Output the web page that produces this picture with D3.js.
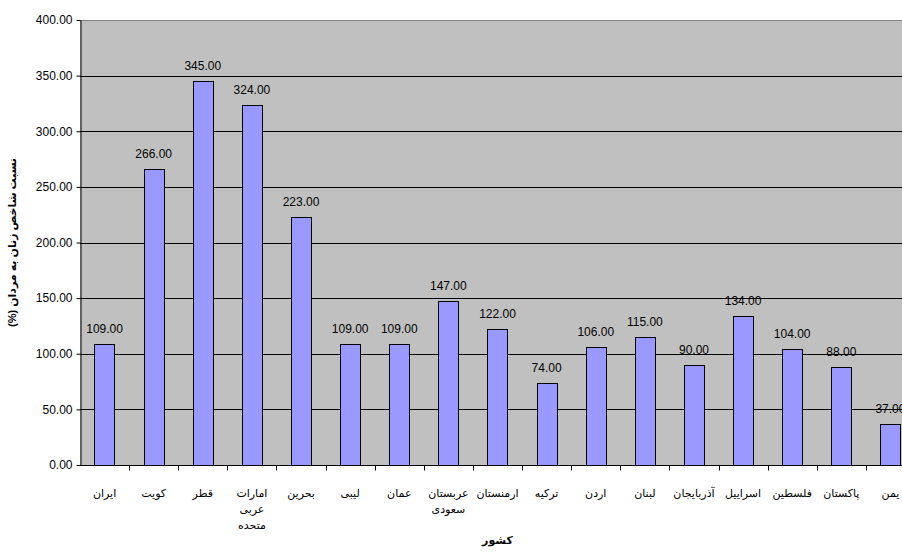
<!DOCTYPE html>
<html>
<head>
<meta charset="utf-8">
<script src="https://cdn.jsdelivr.net/npm/d3@7"></script>
<style>
    body { margin: 0; background: #fff; }
    svg { display: block; font-family: Arial, "Liberation Sans", "DejaVu Sans", sans-serif; }
</style>
</head>
<body>
<div id="chart"></div>
<script>
// categories are listed left to right as drawn
const countries = ['ایران', 'کویت', 'قطر', 'امارات عربی متحده', 'بحرین', 'لیبی', 'عمان', 'عربستان سعودی',
    'ارمنستان', 'ترکیه', 'اردن', 'لبنان', 'آذربایجان', 'اسراییل', 'فلسطین', 'پاکستان', 'یمن'];
// labels as they wrap under the axis
const countryLines = [['ایران'], ['کویت'], ['قطر'], ['امارات', 'عربی', 'متحده'], ['بحرین'], ['لیبی'], ['عمان'],
    ['عربستان', 'سعودی'], ['ارمنستان'], ['ترکیه'], ['اردن'], ['لبنان'], ['آذربایجان'], ['اسراییل'], ['فلسطین'],
    ['پاکستان'], ['یمن']];
const ratios = [109, 266, 345, 324, 223, 109, 109, 147, 122, 74, 106, 115, 90, 134, 104, 88, 37];
const yTicks = [0, 50, 100, 150, 200, 250, 300, 350, 400];
const yTitle = 'نسبت شاخص زنان به مردان (%)';
const xTitle = 'کشور';

const width = 902, height = 552;
const margin = {left: 80, top: 20};
const plotW = 835, plotH = 445;  // plot runs past the right edge like the original

const svg = d3.select('#chart').append('svg')
    .attr('width', width)
    .attr('height', height);

const x = d3.scaleBand()
    .domain(countries)
    .range([margin.left, margin.left + plotW])
    .padding(0);

const y = d3.scaleLinear()
    .domain([0, 400])
    .range([margin.top + plotH, margin.top]);

// plot background
svg.append('rect')
    .attr('x', margin.left)
    .attr('y', margin.top)
    .attr('width', plotW)
    .attr('height', plotH)
    .attr('fill', '#c0c0c0');

// gridlines
svg.append('g')
    .selectAll('line')
    .data(yTicks.filter(t => t > 0 && t < 400))
    .enter().append('line')
    .attr('x1', margin.left)
    .attr('x2', margin.left + plotW)
    .attr('y1', d => Math.round(y(d)) + 0.5)
    .attr('y2', d => Math.round(y(d)) + 0.5)
    .attr('stroke', '#000')
    .attr('stroke-width', 1);

// top border
svg.append('line')
    .attr('x1', margin.left)
    .attr('x2', margin.left + plotW)
    .attr('y1', margin.top + 0.5)
    .attr('y2', margin.top + 0.5)
    .attr('stroke', '#808080');

const barW = x.bandwidth() * 0.41;

svg.append('g')
    .selectAll('rect')
    .data(ratios)
    .enter().append('rect')
    .attr('x', (d, i) => Math.round(x(countries[i]) + x.bandwidth() / 2 - barW / 2) + 0.5)
    .attr('y', d => Math.round(y(d)) + 0.5)
    .attr('width', Math.round(barW))
    .attr('height', d => Math.round(y(0)) - Math.round(y(d)))
    .attr('fill', '#9999ff')
    .attr('stroke', '#000')
    .attr('stroke-width', 1);

svg.append('g')
    .selectAll('text')
    .data(ratios)
    .enter().append('text')
    .attr('x', (d, i) => x(countries[i]) + x.bandwidth() / 2)
    .attr('y', d => y(d) - 11)
    .attr('text-anchor', 'middle')
    .attr('font-size', 12)
    .attr('fill', '#000')
    .text(d => d.toFixed(2));

// y axis
const yAxis = d3.axisLeft(y)
    .tickValues(yTicks)
    .tickFormat(d => d.toFixed(2))
    .tickSize(4)
    .tickSizeOuter(0);

svg.append('g')
    .attr('transform', `translate(${margin.left + 0.5},0)`)
    .call(yAxis)
    .call(g => g.selectAll('text').attr('font-size', 12).attr('fill', '#000').attr('x', -8))
    .call(g => g.selectAll('line, path').attr('stroke', '#000'));

// x axis: ticks sit on the band boundaries
const xAxisG = svg.append('g')
    .attr('transform', `translate(0,${Math.round(y(0)) + 0.5})`);

xAxisG.append('line')
    .attr('x1', margin.left)
    .attr('x2', margin.left + plotW)
    .attr('stroke', '#000');

xAxisG.selectAll('.tick')
    .data(countries)
    .enter().append('line')
    .attr('class', 'tick')
    .attr('x1', d => Math.round(x(d) + x.bandwidth()) + 0.5)
    .attr('x2', d => Math.round(x(d) + x.bandwidth()) + 0.5)
    .attr('y1', 0)
    .attr('y2', 5)
    .attr('stroke', '#000');

const labels = svg.append('g')
    .selectAll('text')
    .data(countryLines)
    .enter().append('text')
    .attr('text-anchor', 'middle')
    .attr('direction', 'rtl')
    .attr('font-size', 11)
    .attr('fill', '#000')
    .attr('transform', (d, i) => `translate(${x(countries[i]) + x.bandwidth() / 2},497)`);

labels.selectAll('tspan')
    .data(d => d)
    .enter().append('tspan')
    .attr('x', 0)
    .attr('y', (d, i) => i * 16)
    .text(d => d);

// axis titles
svg.append('text')
    .attr('transform', `translate(16,${margin.top + plotH / 2}) rotate(-90)`)
    .attr('text-anchor', 'middle')
    .attr('direction', 'rtl')
    .attr('font-size', 11)
    .attr('font-weight', 'bold')
    .text(yTitle);

svg.append('text')
    .attr('x', margin.left + plotW / 2)
    .attr('y', 544)
    .attr('text-anchor', 'middle')
    .attr('direction', 'rtl')
    .attr('font-size', 11)
    .attr('font-weight', 'bold')
    .text(xTitle);
</script>
</body>
</html>
